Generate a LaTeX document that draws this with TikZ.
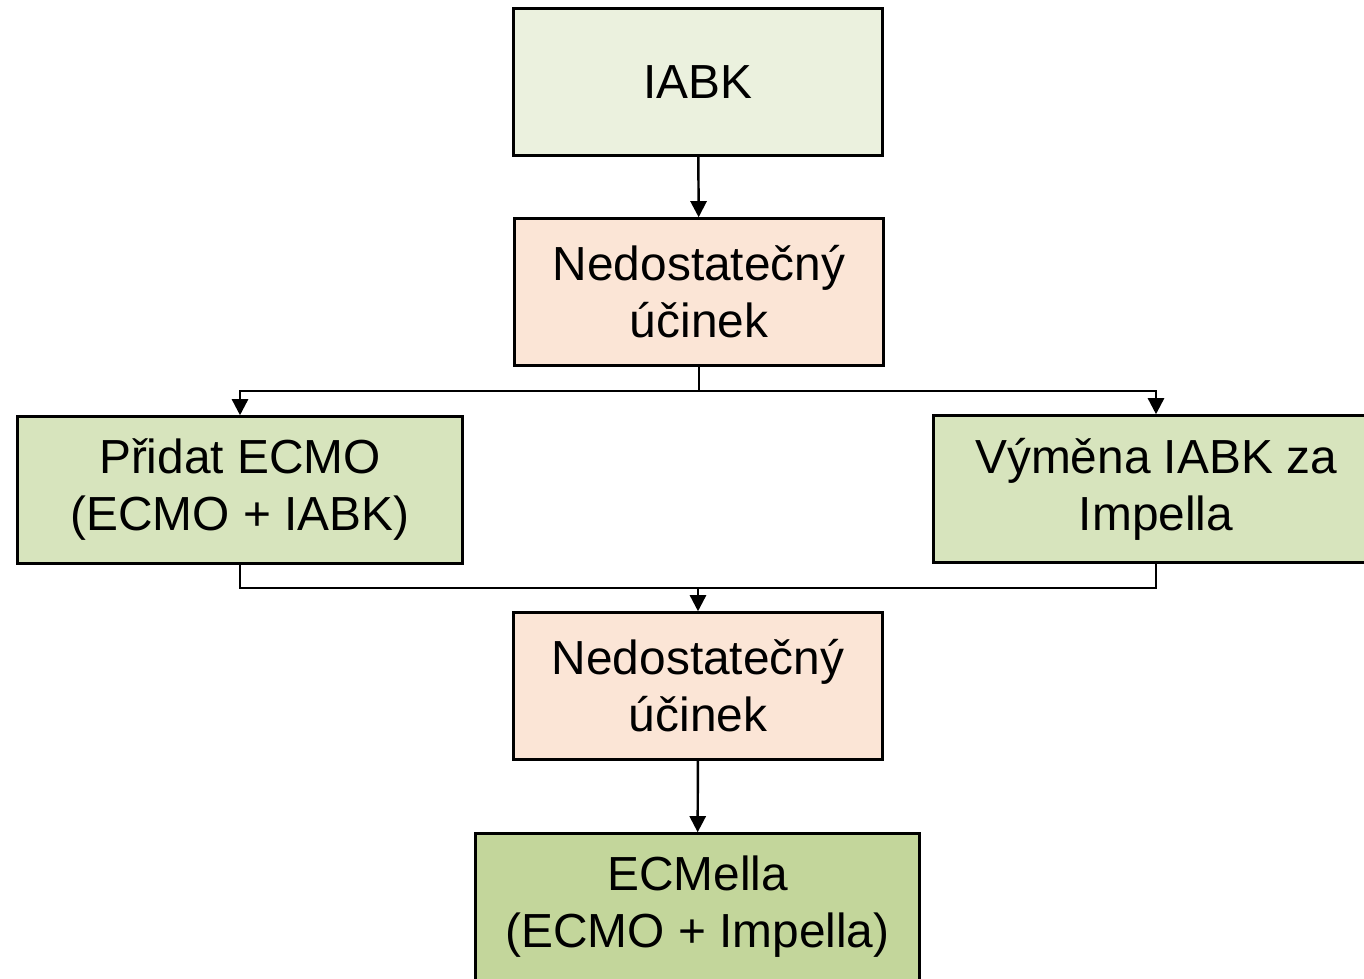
\documentclass[tikz,border=0pt]{standalone}
\usepackage{fontspec}
\setmainfont{Liberation Sans}
\usetikzlibrary{arrows.meta}
\definecolor{startfill}{HTML}{EBF1DE}
\definecolor{failfill}{HTML}{FBE5D6}
\definecolor{optfill}{HTML}{D7E4BD}
\definecolor{endfill}{HTML}{C3D69B}
\begin{document}
\begin{tikzpicture}[x=0.01cm,y=-0.01cm,
		box/.style={draw,line width=0.7pt,align=center,minimum height=1.47cm,
			font=\fontsize{13.6pt}{16.2pt}\selectfont},
		arr/.style={line width=0.7pt,-{Triangle[length=4.6pt,width=4.6pt]}},
		link/.style={line width=0.7pt}]
		\useasboundingbox (0,0) rectangle (1364,978);
		\node [box,fill=startfill,minimum width=3.69cm] (iabk) at (698,82) {IABK};
		\node [box,fill=failfill,minimum width=3.69cm] (ned1) at (699,292) {Nedostatečný\\účinek};
		\node [box,fill=optfill,minimum width=4.45cm] (pridat) at (240,490) {Přidat ECMO\\(ECMO + IABK)};
		\node [box,fill=optfill,minimum width=4.45cm] (vymena) at (1156,489) {Výměna IABK za\\Impella};
		\node [box,fill=failfill,minimum width=3.69cm] (ned2) at (698,686) {Nedostatečný\\účinek};
		\node [box,fill=endfill,minimum width=4.44cm] (ecmella) at (697.5,907) {ECMella\\(ECMO + Impella)};
		\coordinate (split) at (699,391);
		\coordinate (merge) at (698,588);
		\draw [arr] (iabk) -- (ned1);
		\draw [link] (ned1.south) -- (split);
		\draw [arr] (split) -| (pridat.north);
		\draw [arr] (split) -| (vymena.north);
		\draw [link] (pridat.south) |- (merge);
		\draw [link] (vymena.south) |- (merge);
		\draw [arr] (merge) -- (ned2);
		\draw [arr] (ned2) -- (ecmella);
\end{tikzpicture}
\end{document}
